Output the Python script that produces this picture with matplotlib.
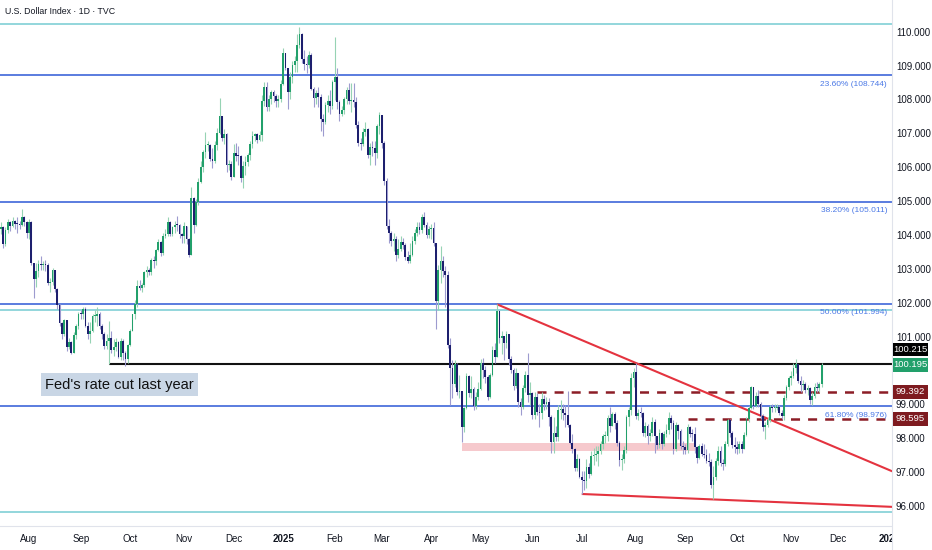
import numpy as np
import matplotlib
matplotlib.use("Agg")
import matplotlib.pyplot as plt
from matplotlib.patches import Rectangle
import matplotlib.transforms as mtrans

plt.rcParams['lines.scale_dashes'] = False
FONT = ['Liberation Sans Narrow', 'Liberation Sans', 'DejaVu Sans']

# ---------------- data (daily DXY, one sub-list per month) ----------------
month_names = ['Jul', 'Aug', 'Sep', 'Oct', 'Nov', 'Dec', '2025', 'Feb', 'Mar', 'Apr',
               'May', 'Jun', 'Jul', 'Aug', 'Sep', 'Oct', 'Nov']
first_open = 104.20

closes = [
    [104.25, 103.75, 104.17, 104.40, 104.30, 104.45, 104.36, 104.35, 104.32, 104.57, 104.42, 104.10],
    [104.41, 103.21, 102.73, 102.97, 103.17, 103.14, 103.15, 103.13, 102.61, 102.63, 103.00, 102.43,
     101.95, 101.44, 101.10, 101.51, 100.72, 100.86, 100.54, 101.08, 101.35, 101.70],
    [101.68, 101.83, 101.35, 101.10, 101.18, 101.63, 101.63, 101.68, 101.35, 101.11, 100.75, 100.89,
     100.98, 100.62, 100.72, 100.87, 100.41, 100.90, 100.55, 100.38, 100.78],
    [101.20, 101.68, 101.99, 102.52, 102.47, 102.55, 102.92, 102.99, 102.92, 103.30, 103.25, 103.59,
     103.83, 103.49, 104.01, 104.07, 104.41, 104.06, 104.26, 104.32, 104.31, 104.06, 103.99],
    [104.28, 103.90, 103.43, 105.12, 104.31, 104.99, 105.60, 106.02, 106.48, 106.68, 106.69, 106.27,
     106.21, 106.68, 107.03, 107.55, 106.90, 107.01, 106.08, 106.11, 105.74],
    [106.45, 106.37, 106.35, 105.71, 106.06, 106.17, 106.40, 106.70, 106.96, 107.00, 106.83, 106.97,
     107.98, 108.41, 107.81, 108.05, 108.26, 108.13, 107.99, 108.04, 108.49],
    [109.39, 108.95, 108.26, 108.68, 109.05, 109.16, 109.65, 109.96, 109.23, 109.07, 109.04, 109.35,
     108.34, 108.06, 108.23, 108.10, 107.45, 107.37, 107.87, 107.99, 107.83, 108.54],
    [108.70, 107.94, 107.59, 107.71, 108.04, 108.31, 107.98, 108.00, 107.94, 107.28, 106.75, 106.71,
     107.07, 107.15, 106.40, 106.63, 106.59, 106.44, 107.24, 107.56],
    [106.75, 105.62, 104.30, 104.09, 103.84, 103.90, 103.44, 103.62, 103.83, 103.73, 103.37, 103.26,
     103.45, 103.86, 104.08, 104.26, 104.17, 104.56, 104.33, 104.04, 104.21],
    [104.23, 103.80, 102.07, 102.99, 103.26, 102.95, 102.86, 100.78, 100.10, 99.64, 100.22, 99.38,
     99.42, 98.35, 98.93, 99.85, 99.35, 99.47, 98.99, 99.23, 99.47],
    [100.25, 100.03, 99.83, 99.25, 99.89, 100.64, 100.42, 101.79, 100.99, 101.04, 100.85, 101.09,
     100.37, 100.03, 99.57, 99.96, 99.11, 98.95, 99.52, 99.88, 99.29, 99.35],
    [98.71, 99.25, 98.79, 98.76, 99.19, 99.03, 99.10, 98.64, 97.92, 98.19, 98.05, 98.86,
     98.90, 98.76, 98.72, 98.42, 97.88, 97.70, 97.15, 97.40, 96.88],
    [96.79, 96.77, 97.18, 96.97, 97.49, 97.54, 97.56, 97.65, 97.85, 98.08, 98.09, 98.62,
     98.40, 98.74, 98.47, 97.88, 97.38, 97.42, 97.67, 98.64, 98.87, 99.80, 99.97],
    [98.69, 98.78, 98.77, 98.18, 98.38, 98.10, 98.18, 98.52, 98.09, 97.84, 98.19, 97.85,
     98.14, 98.26, 98.62, 98.48, 97.72, 98.41, 98.23, 97.80, 97.77],
    [97.67, 98.35, 98.15, 98.14, 97.77, 97.44, 97.80, 97.55, 97.54, 97.35, 97.31, 96.64,
     96.87, 97.35, 97.65, 97.30, 97.26, 97.87, 98.55, 98.17, 97.84, 97.78],
    [97.70, 97.85, 97.72, 98.11, 98.58, 98.93, 99.53, 98.98, 99.26, 99.04, 98.69, 98.35,
     98.43, 98.57, 98.94, 98.92, 98.93, 98.95, 98.78, 98.67, 99.22, 99.53, 99.80],
    [99.87, 100.09, 100.22, 99.72, 99.60, 99.63, 99.45, 99.50, 99.15, 99.28, 99.55, 99.50,
     99.62, 100.195],
]

highs = [
    [104.40, 104.30, 104.25, 104.50, 104.45, 104.55, 104.48, 104.55, 104.45, 104.80, 104.60, 104.45],
    [104.50, 104.45, 103.10, 103.20, 103.30, 103.40, 103.25, 103.30, 103.20, 102.75, 103.05, 103.00,
     102.45, 102.00, 101.45, 101.55, 101.50, 101.00, 100.90, 101.15, 101.40, 101.75],
    [101.80, 101.90, 101.90, 101.45, 101.45, 101.70, 101.80, 101.90, 101.75, 101.40, 101.15, 101.10,
     101.50, 101.20, 100.95, 101.00, 100.90, 101.00, 100.95, 100.60, 100.80],
    [101.25, 101.70, 102.10, 102.70, 102.70, 102.60, 102.95, 103.10, 103.05, 103.35, 103.40, 103.60,
     103.90, 103.85, 104.10, 104.20, 104.55, 104.45, 104.30, 104.45, 104.60, 104.35, 104.10],
    [104.40, 104.05, 103.95, 105.44, 105.15, 105.10, 105.70, 106.20, 106.55, 107.07, 106.80, 106.70,
     106.60, 106.80, 107.20, 108.07, 107.40, 107.15, 107.05, 106.25, 106.20],
    [106.70, 106.75, 106.65, 106.40, 106.20, 106.35, 106.45, 106.80, 107.10, 107.05, 107.05, 107.10,
     108.15, 108.55, 108.55, 108.15, 108.30, 108.30, 108.20, 108.15, 108.60],
    [109.54, 109.40, 108.90, 108.85, 109.15, 109.30, 109.95, 110.18, 110.00, 109.50, 109.30, 109.45,
     109.40, 108.40, 108.30, 108.40, 108.20, 107.60, 107.95, 108.15, 108.30, 108.60],
    [109.88, 108.95, 108.00, 107.85, 108.10, 108.40, 108.50, 108.50, 108.50, 108.10, 107.40, 106.90,
     107.20, 107.35, 107.20, 106.75, 106.80, 106.80, 107.30, 107.65],
    [107.55, 106.80, 105.70, 104.50, 104.15, 104.10, 104.00, 103.90, 104.00, 103.95, 103.80, 103.55,
     103.80, 104.00, 104.20, 104.40, 104.40, 104.65, 104.70, 104.40, 104.30],
    [104.35, 104.40, 103.80, 103.15, 103.70, 103.40, 103.10, 102.95, 101.00, 100.35, 100.35, 100.25,
     99.90, 99.40, 98.95, 99.95, 99.90, 99.85, 99.55, 99.40, 99.70],
    [100.38, 100.40, 100.15, 99.90, 99.95, 100.75, 100.85, 101.98, 101.80, 101.20, 101.05, 101.20,
     101.10, 100.45, 100.10, 100.10, 99.95, 99.20, 99.60, 100.00, 100.54, 99.70],
    [99.40, 99.40, 99.35, 99.05, 99.40, 99.30, 99.25, 99.20, 98.70, 98.65, 98.40, 99.00,
     99.15, 99.05, 99.00, 99.42, 98.45, 98.15, 97.75, 97.55, 97.45],
    [97.05, 97.05, 97.40, 97.30, 97.65, 97.75, 97.80, 97.80, 97.95, 98.15, 98.25, 98.70,
     98.95, 98.80, 98.80, 98.55, 97.95, 97.55, 97.80, 98.70, 98.95, 99.95, 100.10],
    [100.26, 98.90, 98.95, 98.80, 98.50, 98.45, 98.30, 98.65, 98.60, 98.10, 98.30, 98.20,
     98.25, 98.45, 98.80, 98.70, 98.55, 98.50, 98.45, 98.30, 97.95],
    [97.85, 98.45, 98.40, 98.30, 98.35, 97.80, 97.85, 97.90, 97.85, 97.70, 97.60, 97.40,
     97.20, 97.45, 97.80, 97.80, 97.40, 97.95, 98.60, 98.60, 98.25, 98.05],
    [97.95, 97.95, 97.95, 98.20, 98.65, 98.98, 99.56, 99.55, 99.40, 99.45, 99.10, 98.75,
     98.50, 98.65, 99.00, 99.05, 99.05, 99.05, 99.00, 98.85, 99.30, 99.60, 99.85],
    [100.00, 100.25, 100.36, 100.20, 99.85, 99.75, 99.70, 99.60, 99.55, 99.40, 99.65, 99.70,
     99.70, 100.25],
]

lows = [
    [104.05, 103.65, 103.70, 104.10, 104.15, 104.25, 104.20, 104.10, 104.20, 104.28, 104.30, 103.95],
    [103.90, 103.15, 102.16, 102.50, 102.80, 103.00, 103.00, 102.95, 102.55, 102.35, 102.55, 102.35,
     101.85, 101.35, 100.95, 101.05, 100.60, 100.65, 100.51, 100.55, 100.95, 101.25],
    [101.55, 101.55, 101.30, 100.95, 100.85, 101.15, 101.45, 101.35, 101.25, 100.95, 100.65, 100.65,
     100.22, 100.55, 100.45, 100.60, 100.40, 100.35, 100.35, 100.16, 100.25],
    [100.75, 101.20, 101.55, 101.90, 102.40, 102.35, 102.50, 102.80, 102.85, 102.85, 103.05, 103.15,
     103.55, 103.40, 103.45, 103.95, 104.00, 104.00, 104.00, 104.10, 104.15, 103.95, 103.80],
    [103.80, 103.75, 103.37, 103.60, 104.10, 104.30, 104.90, 105.55, 105.90, 106.30, 106.50, 106.20,
     106.00, 106.15, 106.55, 107.00, 106.80, 106.70, 105.90, 105.95, 105.65],
    [105.90, 106.20, 106.10, 105.60, 105.40, 105.80, 106.05, 106.25, 106.60, 106.80, 106.75, 106.80,
     106.80, 107.85, 107.70, 107.70, 107.90, 107.95, 107.80, 107.80, 107.95],
    [108.45, 108.90, 107.75, 108.05, 108.50, 108.85, 108.85, 109.55, 109.10, 108.90, 108.80, 108.95,
     108.30, 107.80, 107.90, 107.80, 107.10, 106.95, 107.30, 107.65, 107.60, 107.75],
    [108.00, 107.75, 107.40, 107.55, 107.60, 107.90, 107.90, 107.65, 107.80, 107.20, 106.65, 106.55,
     106.65, 106.95, 106.30, 106.10, 106.35, 106.10, 106.30, 107.00],
    [106.60, 105.50, 104.20, 103.80, 103.70, 103.55, 103.25, 103.35, 103.55, 103.60, 103.30, 103.20,
     103.20, 103.40, 103.75, 104.00, 104.05, 104.10, 104.25, 103.95, 103.95],
    [103.90, 103.70, 101.26, 101.80, 102.60, 102.80, 101.90, 100.70, 99.01, 99.20, 99.55, 99.30,
     99.20, 97.92, 98.20, 98.90, 99.25, 99.20, 98.85, 98.90, 99.15],
    [99.45, 99.80, 99.65, 99.15, 99.20, 99.85, 100.25, 100.90, 100.85, 100.50, 100.35, 100.70,
     100.20, 99.95, 99.45, 99.50, 98.95, 98.70, 98.90, 99.40, 99.10, 99.00],
    [98.58, 98.60, 98.70, 98.35, 98.60, 98.85, 98.90, 98.40, 97.60, 97.60, 97.95, 97.95,
     98.60, 98.55, 98.35, 98.35, 97.85, 97.60, 97.05, 97.05, 96.85],
    [96.38, 96.50, 96.55, 96.85, 96.95, 97.25, 97.35, 97.20, 97.55, 97.70, 97.90, 97.95,
     98.20, 98.40, 98.30, 97.80, 97.20, 97.10, 97.30, 97.60, 98.40, 98.70, 99.55],
    [98.60, 98.55, 98.65, 98.10, 98.05, 97.85, 97.95, 98.10, 97.60, 97.70, 97.75, 97.70,
     97.80, 98.05, 98.15, 98.30, 97.55, 97.65, 98.00, 97.70, 97.55],
    [97.55, 97.60, 98.05, 97.95, 97.60, 97.30, 97.40, 97.50, 97.45, 97.30, 97.20, 96.55,
     96.22, 96.80, 97.25, 97.20, 97.10, 97.20, 97.80, 98.05, 97.75, 97.60],
    [97.55, 97.60, 97.60, 97.75, 98.10, 98.50, 98.90, 98.90, 98.95, 98.95, 98.60, 98.25,
     98.00, 98.35, 98.50, 98.80, 98.80, 98.85, 98.70, 98.60, 98.55, 99.15, 99.45],
    [99.60, 99.80, 99.95, 99.65, 99.40, 99.45, 99.35, 99.30, 99.05, 99.00, 99.20, 99.40,
     99.40, 99.55],
]

# future sessions (empty right margin of the chart)
future_month_sessions = [20, 22]          # full Nov 2025, Dec 2025
future_month_names = ['Dec', '2026']

# horizontal levels and drawings
cyan_levels = [110.25, 101.80, 95.85]
fib_levels = [108.744, 105.011, 101.994, 98.976]
fib_labels = ['23.60% (108.744)', '38.20% (105.011)', '50.00% (101.994)', '61.80% (98.976)']
black_level = 100.215
black_start = 46
dashed_levels = [99.392, 98.595]
dashed_starts = [228, 292]
trend_upper_x = [211, 379]
trend_upper_y = [101.98, 97.05]
trend_lower_x = [247, 379]
trend_lower_y = [96.38, 96.00]
zone_x = [196, 295]
zone_y = [97.65, 97.89]
last_price = 100.195
y_tick_values = list(range(96, 111))

# ---------------- figure ----------------
W, H = 932, 550
fig = plt.figure(figsize=(W / 100, H / 100), dpi=100)
fig.patch.set_facecolor('white')
ax = fig.add_axes([0, 24 / H, 892 / W, 526 / H])
x_left, x_right = -0.33, 378.9
ax.set_xlim(x_left, x_right)
ax.set_ylim(95.435, 110.965)

c = np.concatenate([np.array(m, float) for m in closes])
h = np.concatenate([np.array(m, float) for m in highs])
l = np.concatenate([np.array(m, float) for m in lows])
n = min(len(c), len(h), len(l))
c, h, l = c[:n], h[:n], l[:n]
o = np.concatenate([[first_open], c[:-1]])
h = np.maximum(h, np.maximum(o, c))
l = np.minimum(l, np.minimum(o, c))
idx = np.arange(n)
up = c >= o

UP_BODY, UP_WICK = '#22a06b', '#96d3b4'
DN_BODY, DN_WICK = '#1d1f6e', '#9d9bcf'

ax.vlines(idx[up], l[up], h[up], color=UP_WICK, lw=0.8, zorder=3)
ax.vlines(idx[~up], l[~up], h[~up], color=DN_WICK, lw=0.8, zorder=3)
bh = np.maximum(np.abs(c - o), 0.03)
bb = np.minimum(o, c)
ax.bar(idx[up], bh[up], bottom=bb[up], width=0.74, color=UP_BODY, lw=0, zorder=4)
ax.bar(idx[~up], bh[~up], bottom=bb[~up], width=0.74, color=DN_BODY, lw=0, zorder=4)

# levels
for y in cyan_levels:
    ax.axhline(y, color='#93d6dc', lw=1.4, zorder=2)
for y, lab in zip(fib_levels, fib_labels):
    ax.axhline(y, color='#2d58d6', lw=1.1, zorder=2)
    ax.text(0.9945, y - 0.27, lab, transform=mtrans.blended_transform_factory(ax.transAxes, ax.transData),
            ha='right', va='center', fontsize=6, color='#4a78e6', family=FONT, zorder=5)
ax.hlines(black_level, black_start, x_right, color='#111111', lw=1.5, zorder=2)
for y, s in zip(dashed_levels, dashed_starts):
    ax.hlines(y, s, x_right, color='#8c1d26', lw=1.8, linestyles=(0, (6.5, 5.8)), zorder=2)
ax.plot(trend_upper_x, trend_upper_y, color='#e4333f', lw=1.5, zorder=2, solid_capstyle='butt')
ax.plot(trend_lower_x, trend_lower_y, color='#e4333f', lw=1.5, zorder=2, solid_capstyle='butt')
ax.add_patch(Rectangle((zone_x[0], zone_y[0]), zone_x[1] - zone_x[0], zone_y[1] - zone_y[0],
                       facecolor='#f6c9cd', edgecolor='none', zorder=1))

ax.text(50.5, 99.61, "Fed's rate cut last year", ha='center', va='center', fontsize=10.5,
        family=FONT, color='#111111', zorder=6,
        bbox=dict(boxstyle='square,pad=0.3', facecolor='#c9d6e5', edgecolor='none'))

# x ticks at month starts
lens = [len(m) for m in closes]
starts = np.cumsum([0] + lens)[1:-1]
tick_pos = list(starts)
tick_lab = list(month_names[1:])
nxt = starts[-1]
for s_, name in zip(future_month_sessions, future_month_names):
    nxt = nxt + s_
    tick_pos.append(nxt)
    tick_lab.append(name)
ax.set_xticks(tick_pos)
ax.set_xticklabels(tick_lab, fontsize=7, color='#131722', family=FONT)
for t in ax.get_xticklabels():
    if t.get_text() in ('2025', '2026'):
        t.set_fontweight('bold')
ax.tick_params(axis='x', length=0, pad=6)
ax.set_yticks([])
for s in ['top', 'left', 'right']:
    ax.spines[s].set_visible(False)
ax.spines['bottom'].set_color('#e0e3eb')
ax.spines['bottom'].set_linewidth(0.8)

# right price scale
ax2 = fig.add_axes([892 / W, 0, 40 / W, 1])
ax2.set_xlim(0, 1)
ax2.set_ylim(94.727, 110.965)
ax2.set_facecolor('white')
ax2.set_xticks([])
ax2.set_yticks([])
for s in ['top', 'bottom', 'right']:
    ax2.spines[s].set_visible(False)
ax2.spines['left'].set_color('#e0e3eb')
ax2.spines['left'].set_linewidth(0.8)

price_boxes = [(100.215, 100.65, '#000000'), (last_price, 100.195, UP_BODY),
               (99.392, 99.392, '#7e1b20'), (98.595, 98.595, '#7e1b20')]
box_tops = [yp + 0.2 for _, yp, _ in price_boxes]
box_bots = [yp - 0.2 for _, yp, _ in price_boxes]
for v in y_tick_values:
    # a tick label that sits entirely under a price box is hidden, as on the chart
    covered = any(b - 0.05 < v < t + 0.05 for b, t in zip(box_bots, box_tops))
    if covered:
        continue
    ax2.text(0.1, v, f'{v:.3f}', ha='left', va='center', fontsize=7, color='#131722',
             family=FONT, zorder=2)

for val, ypos, col in price_boxes:
    ax2.add_patch(Rectangle((0.02, ypos - 0.2), 0.88, 0.4, facecolor=col, edgecolor='none', zorder=3))
    ax2.text(0.46, ypos, f'{val:.3f}', ha='center', va='center', fontsize=6.8, color='white',
             family=FONT, zorder=4)

fig.text(5 / W, 1 - 12 / H, 'U.S. Dollar Index · 1D · TVC', ha='left', va='center', fontsize=6.3,
         color='#131722', family=FONT)

fig.savefig('out.png', dpi=100, facecolor='white')
